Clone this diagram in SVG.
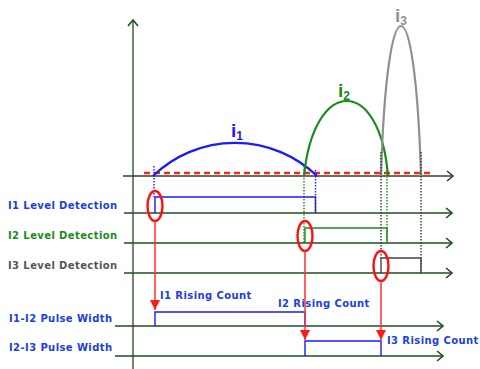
<svg xmlns="http://www.w3.org/2000/svg" width="480" height="369" viewBox="0 0 480 369">
<defs>
<marker id="chev" markerUnits="userSpaceOnUse" markerWidth="12" markerHeight="12" refX="7" refY="6" orient="auto">
<path d="M1,1 L7,6 L1,11" fill="none" stroke="#1e4d1e" stroke-width="1.6"/>
</marker>
<marker id="redhead" markerUnits="userSpaceOnUse" markerWidth="10" markerHeight="12" refX="10" refY="5" orient="auto">
<path d="M0,0 L10,5 L0,10 Z" fill="#ff1a1a"/>
</marker>
</defs>
<style>
.axis{stroke:#1e4d1e;stroke-width:1.3;fill:none}
.lbl{font-family:"DejaVu Sans","Liberation Sans",sans-serif;font-weight:bold;font-size:10px;letter-spacing:0.4px}
.blue{fill:#2040e0}
.green{fill:#1a8c1a}
.gray{fill:#555}
.sig{fill:none;stroke-width:1.4}
.dot{fill:none;stroke-width:1.4;stroke-dasharray:1.5 1.5}
.ell{fill:none;stroke:#ff1010;stroke-width:2.4}
.rarrow{stroke:#ff3030;stroke-width:1.5;fill:none}
.ilbl{font-family:"Liberation Sans",Arial,sans-serif;font-weight:bold}
</style>

<g id="axes">
<line class="axis" x1="133" y1="369" x2="133" y2="20" marker-end="url(#chev)"/>
<line class="axis" x1="123" y1="176" x2="453" y2="176" marker-end="url(#chev)"/>
<line class="axis" x1="124" y1="213" x2="452" y2="213" marker-end="url(#chev)"/>
<line class="axis" x1="124" y1="243" x2="452" y2="243" marker-end="url(#chev)"/>
<line class="axis" x1="124" y1="273" x2="452" y2="273" marker-end="url(#chev)"/>
<line class="axis" x1="115" y1="326" x2="443" y2="326" marker-end="url(#chev)"/>
<line class="axis" x1="115" y1="356" x2="443" y2="356" marker-end="url(#chev)"/>
</g>

<g id="threshold">
<line x1="144" y1="173" x2="432" y2="173" stroke="#ff2020" stroke-width="2.4" stroke-dasharray="6 4"/>
</g>

<g id="currents">
<path d="M153,176 A118,118 0 0 1 317,176" fill="none" stroke="#1a1aff" stroke-width="2.2"/>
<path d="M304,176 C314,76 380,76 388,176" fill="none" stroke="#1a8a1a" stroke-width="2.2"/>
<path d="M381,176 C387,-24 415,-24 421,176" fill="none" stroke="#909090" stroke-width="2.2"/>
<text class="ilbl" x="231" y="137" font-size="19" fill="#1a1aff">i<tspan font-size="12" dy="3">1</tspan></text>
<text class="ilbl" x="338" y="97" font-size="19" fill="#1a8a1a">i<tspan font-size="12" dy="3">2</tspan></text>
<text class="ilbl" x="395" y="22" font-size="19" fill="#909090">i<tspan font-size="12" dy="3">3</tspan></text>
</g>

<g id="dotted">
<line class="dot" x1="154" y1="166" x2="154" y2="197" stroke="#1a1aff"/>
<line class="dot" x1="315.5" y1="170" x2="315.5" y2="213" stroke="#1a1aff"/>
<line class="dot" x1="304" y1="166" x2="304" y2="243" stroke="#1a8a1a"/>
<line class="dot" x1="387" y1="170" x2="387" y2="243" stroke="#1a8a1a"/>
<line class="dot" x1="381" y1="152" x2="381" y2="258" stroke="#333"/>
<line class="dot" x1="421" y1="152" x2="421" y2="273" stroke="#333"/>
</g>

<g id="i1-level">
<text class="lbl blue" x="8" y="209">I1 Level Detection</text>
<path class="sig" stroke="#1a1aff" d="M155,213 V197 H315.5 V213"/>
</g>
<g id="i2-level">
<text class="lbl green" x="8" y="239">I2 Level Detection</text>
<path class="sig" stroke="#1a8a1a" d="M305,243 V228 H387 V243"/>
</g>
<g id="i3-level">
<text class="lbl gray" x="8" y="269">I3 Level Detection</text>
<path class="sig" stroke="#444" d="M381,273 V258 H421 V273"/>
</g>
<g id="i1i2-pulse">
<text class="lbl blue" x="9" y="322">I1-I2 Pulse Width</text>
<path class="sig" stroke="#1a1aff" d="M155,326 V312 H305 V326"/>
<text class="lbl blue" x="160" y="299">I1 Rising Count</text>
<text class="lbl blue" x="278" y="307">I2 Rising Count</text>
</g>
<g id="i2i3-pulse">
<text class="lbl blue" x="9" y="351">I2-I3 Pulse Width</text>
<path class="sig" stroke="#1a1aff" d="M305,356 V341 H381 V356"/>
<text class="lbl blue" x="387" y="344">I3 Rising Count</text>
</g>

<g id="markers">
<ellipse class="ell" cx="155" cy="206" rx="7.5" ry="15"/>
<ellipse class="ell" cx="305" cy="236" rx="7.5" ry="15"/>
<ellipse class="ell" cx="381" cy="266" rx="7.5" ry="15"/>
</g>

<g id="connectors">
<line class="rarrow" x1="155" y1="221" x2="155" y2="310" marker-end="url(#redhead)"/>
<line class="rarrow" x1="305" y1="251" x2="305" y2="340" marker-end="url(#redhead)"/>
<line class="rarrow" x1="381" y1="281" x2="381" y2="340" marker-end="url(#redhead)"/>
</g>
</svg>
